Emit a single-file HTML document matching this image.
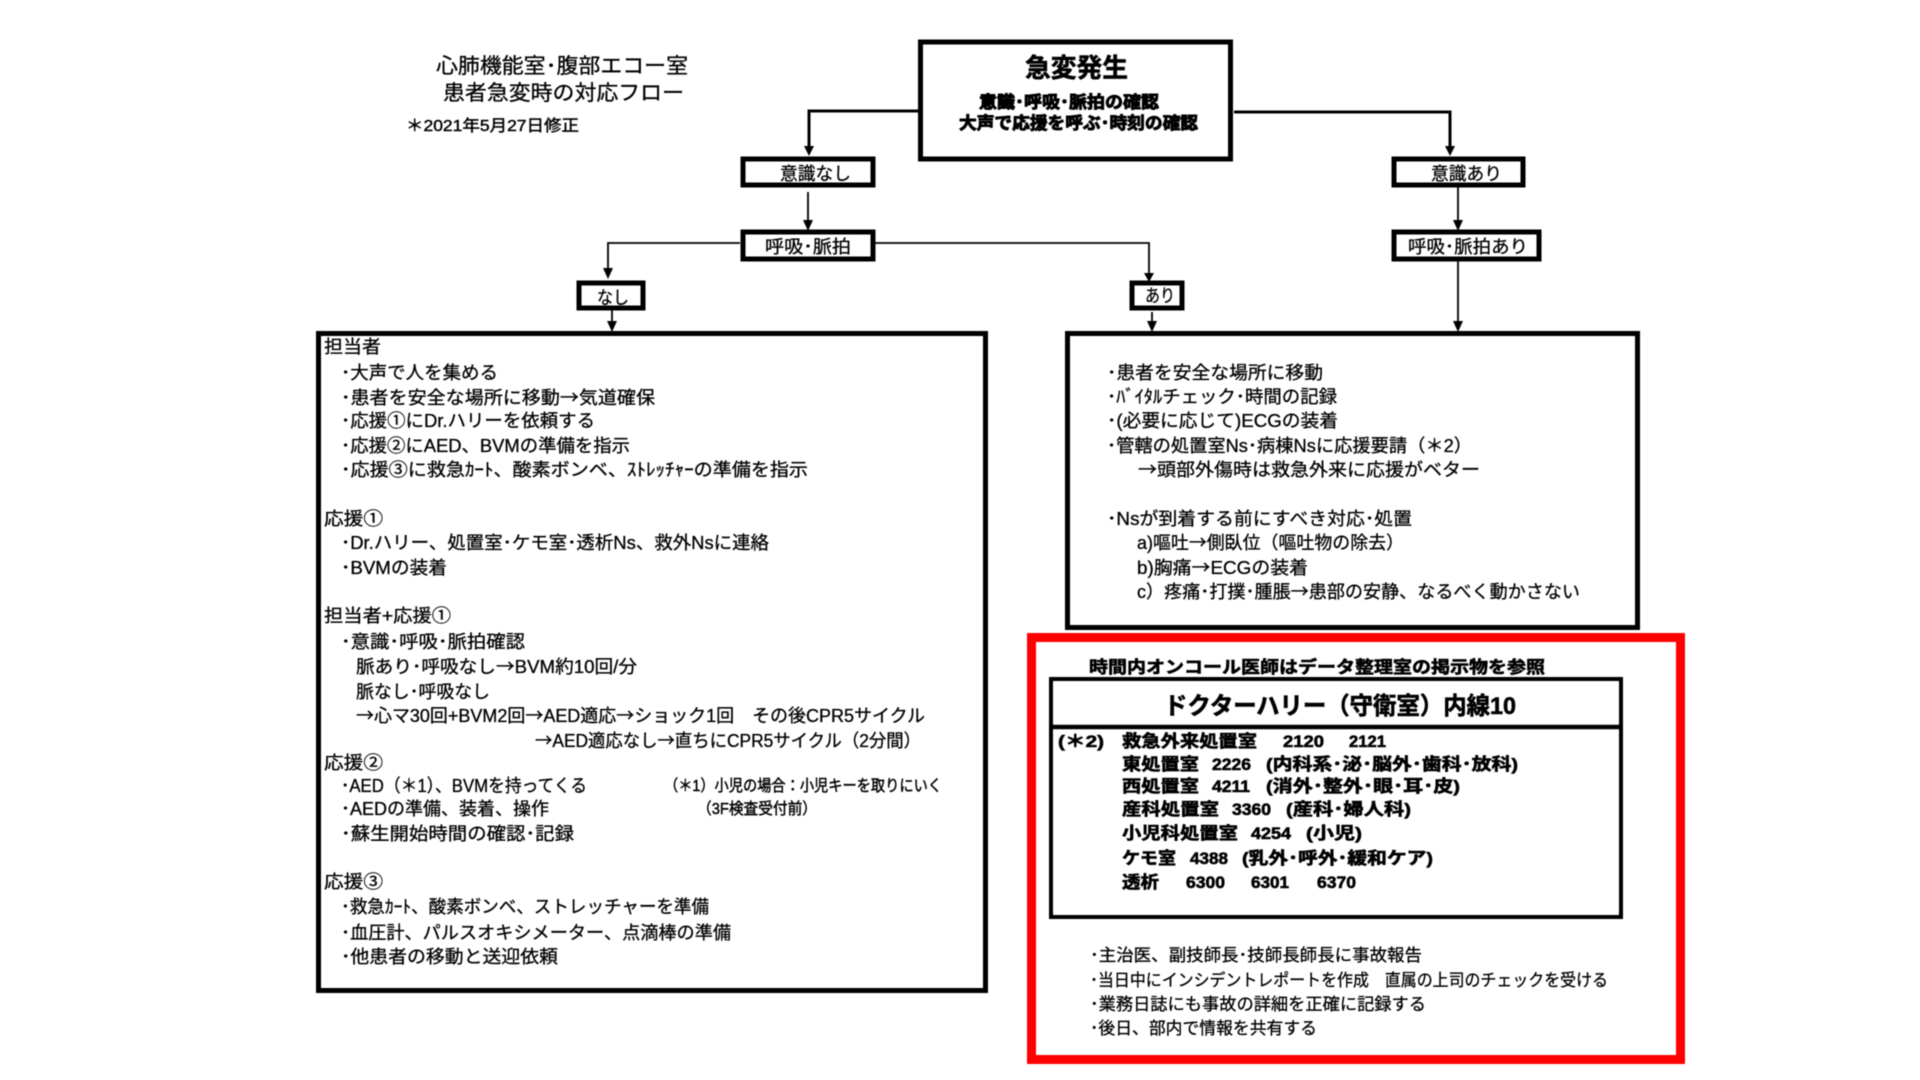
<!DOCTYPE html>
<html lang="ja"><head><meta charset="utf-8"><title>患者急変時の対応フロー</title>
<style>
html,body{margin:0;padding:0;background:#fff;width:1920px;height:1080px;overflow:hidden}
svg{display:block;filter:blur(.5px)}
text{font-family:"Liberation Sans","Noto Sans CJK JP",sans-serif;font-size:18px;fill:#000;stroke:#000;stroke-width:.3px;white-space:pre}
.b{font-weight:700;fill:#000;stroke-width:.6px}
.s{font-size:16px;stroke-width:.45px}
.m{font-size:17px}
.a{font-family:"Noto Sans CJK JP",sans-serif}
rect{fill:none;stroke:#000}
line,polyline{fill:none;stroke:#000}
polygon{fill:#000}
</style></head><body>
<svg width="1920" height="1080" viewBox="0 0 1920 1080" xmlns="http://www.w3.org/2000/svg">
<!-- connectors -->
<polyline points="918,111 809,111 809,147" stroke-width="3"/>
<polygon points="804,146 814,146 809,156"/>
<line x1="808" y1="192" x2="808" y2="222" stroke-width="1.8"/>
<polygon points="803,220 813,220 808,231"/>
<polyline points="740,243 608,243 608,270" stroke-width="1.8"/>
<polygon points="603,268 613,268 608,279"/>
<line x1="612" y1="310" x2="612" y2="323" stroke-width="1.8"/>
<polygon points="607,321 617,321 612,332"/>
<polyline points="875,243 1149,243 1149,275" stroke-width="1.8"/>
<polygon points="1144,273 1154,273 1149,282"/>
<line x1="1152" y1="312" x2="1152" y2="323" stroke-width="1.8"/>
<polygon points="1147,321 1157,321 1152,332"/>
<polyline points="1234,112 1450,112 1450,147" stroke-width="3"/>
<polygon points="1445,146 1455,146 1450,156"/>
<line x1="1458" y1="187" x2="1458" y2="222" stroke-width="1.8"/>
<polygon points="1453,220 1463,220 1458,231"/>
<line x1="1458" y1="261" x2="1458" y2="323" stroke-width="1.8"/>
<polygon points="1453,321 1463,321 1458,332"/>
<!-- boxes -->
<rect x="920.5" y="42" width="310" height="117" stroke-width="5"/>
<rect x="743" y="159" width="130" height="26" stroke-width="5"/>
<rect x="743" y="232" width="130" height="27" stroke-width="5"/>
<rect x="579" y="283" width="64" height="25" stroke-width="5"/>
<rect x="1132" y="283" width="50" height="25" stroke-width="5"/>
<rect x="1394" y="159" width="129" height="26" stroke-width="5"/>
<rect x="1394" y="232" width="145" height="27" stroke-width="5"/>
<rect x="318.5" y="333.5" width="667" height="657" stroke-width="5"/>
<rect x="1067.5" y="333.5" width="570" height="294" stroke-width="5"/>
<rect x="1031.5" y="637.5" width="649" height="422" stroke-width="9" style="stroke:#f00"/>
<rect x="1051" y="679" width="570" height="238" stroke-width="4"/>
<line x1="1049" y1="727" x2="1623" y2="727" stroke-width="4.5"/>
<!-- title -->
<text x="436" y="73" textLength="252" lengthAdjust="spacingAndGlyphs" style="font-size:21px">心肺機能室･腹部エコー室</text>
<text x="443" y="100" textLength="241" lengthAdjust="spacingAndGlyphs" style="font-size:21px">患者急変時の対応フロー</text>
<text x="406" y="131" textLength="173" lengthAdjust="spacingAndGlyphs" class="s">＊2021年5月27日修正</text>
<!-- main -->
<text x="1025" y="77" textLength="103" lengthAdjust="spacingAndGlyphs" class="b" style="font-size:26px">急変発生</text>
<text x="979" y="108" textLength="180" lengthAdjust="spacingAndGlyphs" class="b m" style="stroke-width:.9px">意識･呼吸･脈拍の確認</text>
<text x="959" y="129" textLength="239" lengthAdjust="spacingAndGlyphs" class="b m" style="stroke-width:.9px">大声で応援を呼ぶ･時刻の確認</text>
<text x="780" y="180" textLength="71" lengthAdjust="spacingAndGlyphs">意識なし</text>
<text x="765" y="253" textLength="86" lengthAdjust="spacingAndGlyphs">呼吸･脈拍</text>
<text x="597" y="304" textLength="32" lengthAdjust="spacingAndGlyphs">なし</text>
<text x="1145" y="302" textLength="30" lengthAdjust="spacingAndGlyphs">あり</text>
<text x="1431" y="180" textLength="71" lengthAdjust="spacingAndGlyphs">意識あり</text>
<text x="1408" y="253" textLength="120" lengthAdjust="spacingAndGlyphs">呼吸･脈拍あり</text>
<!-- left box -->
<text x="324" y="353" textLength="57" lengthAdjust="spacingAndGlyphs">担当者</text>
<text x="341" y="379" textLength="157" lengthAdjust="spacingAndGlyphs">･大声で人を集める</text>
<text x="341" y="404" textLength="314" lengthAdjust="spacingAndGlyphs">･患者を安全な場所に移動<tspan class="a">→</tspan>気道確保</text>
<text x="341" y="427" textLength="254" lengthAdjust="spacingAndGlyphs">･応援①にDr.ハリーを依頼する</text>
<text x="341" y="452" textLength="289" lengthAdjust="spacingAndGlyphs">･応援②にAED、BVMの準備を指示</text>
<text x="341" y="476" textLength="467" lengthAdjust="spacingAndGlyphs">･応援③に救急ｶｰﾄ、酸素ボンベ、ｽﾄﾚｯﾁｬｰの準備を指示</text>
<text x="324" y="525" textLength="59" lengthAdjust="spacingAndGlyphs">応援①</text>
<text x="341" y="549" textLength="428" lengthAdjust="spacingAndGlyphs">･Dr.ハリー、処置室･ケモ室･透析Ns、救外Nsに連絡</text>
<text x="341" y="574" textLength="106" lengthAdjust="spacingAndGlyphs">･BVMの装着</text>
<text x="324" y="622" textLength="127" lengthAdjust="spacingAndGlyphs">担当者+応援①</text>
<text x="341" y="648" textLength="184" lengthAdjust="spacingAndGlyphs">･意識･呼吸･脈拍確認</text>
<text x="356" y="673" textLength="281" lengthAdjust="spacingAndGlyphs">脈あり･呼吸なし<tspan class="a">→</tspan>BVM約10回/分</text>
<text x="356" y="698" textLength="134" lengthAdjust="spacingAndGlyphs">脈なし･呼吸なし</text>
<text x="356" y="722" textLength="569" lengthAdjust="spacingAndGlyphs"><tspan class="a">→</tspan>心マ30回+BVM2回<tspan class="a">→</tspan>AED適応<tspan class="a">→</tspan>ショック1回　その後CPR5サイクル</text>
<text x="535" y="747" textLength="386" lengthAdjust="spacingAndGlyphs"><tspan class="a">→</tspan>AED適応なし<tspan class="a">→</tspan>直ちにCPR5サイクル（2分間）</text>
<text x="324" y="769" textLength="59" lengthAdjust="spacingAndGlyphs">応援②</text>
<text x="341" y="792" textLength="246" lengthAdjust="spacingAndGlyphs">･AED（＊1）、BVMを持ってくる</text>
<text x="664" y="791" textLength="278" lengthAdjust="spacingAndGlyphs" class="s">（＊1）小児の場合：小児キーを取りにいく</text>
<text x="697" y="814" textLength="120" lengthAdjust="spacingAndGlyphs" class="s">（3F検査受付前）</text>
<text x="341" y="815" textLength="208" lengthAdjust="spacingAndGlyphs">･AEDの準備、装着、操作</text>
<text x="341" y="840" textLength="233" lengthAdjust="spacingAndGlyphs">･蘇生開始時間の確認･記録</text>
<text x="324" y="888" textLength="59" lengthAdjust="spacingAndGlyphs">応援③</text>
<text x="341" y="913" textLength="368" lengthAdjust="spacingAndGlyphs">･救急ｶｰﾄ、酸素ボンベ、ストレッチャーを準備</text>
<text x="341" y="939" textLength="390" lengthAdjust="spacingAndGlyphs">･血圧計、パルスオキシメーター、点滴棒の準備</text>
<text x="341" y="963" textLength="217" lengthAdjust="spacingAndGlyphs">･他患者の移動と送迎依頼</text>
<!-- right box -->
<text x="1107" y="379" textLength="216" lengthAdjust="spacingAndGlyphs">･患者を安全な場所に移動</text>
<text x="1107" y="403" textLength="230" lengthAdjust="spacingAndGlyphs">･ﾊﾞｲﾀﾙチェック･時間の記録</text>
<text x="1107" y="427" textLength="231" lengthAdjust="spacingAndGlyphs">･(必要に応じて)ECGの装着</text>
<text x="1107" y="452" textLength="365" lengthAdjust="spacingAndGlyphs">･管轄の処置室Ns･病棟Nsに応援要請（＊2）</text>
<text x="1138" y="476" textLength="342" lengthAdjust="spacingAndGlyphs"><tspan class="a">→</tspan>頭部外傷時は救急外来に応援がベター</text>
<text x="1107" y="525" textLength="305" lengthAdjust="spacingAndGlyphs">･Nsが到着する前にすべき対応･処置</text>
<text x="1137" y="549" textLength="267" lengthAdjust="spacingAndGlyphs">a)嘔吐<tspan class="a">→</tspan>側臥位（嘔吐物の除去）</text>
<text x="1137" y="574" textLength="171" lengthAdjust="spacingAndGlyphs">b)胸痛<tspan class="a">→</tspan>ECGの装着</text>
<text x="1137" y="598" textLength="443" lengthAdjust="spacingAndGlyphs">c）疼痛･打撲･腫脹<tspan class="a">→</tspan>患部の安静、なるべく動かさない</text>
<!-- red box -->
<text x="1089" y="673" textLength="456" lengthAdjust="spacingAndGlyphs" class="b m">時間内オンコール医師はデータ整理室の掲示物を参照</text>
<text x="1164" y="714" textLength="352" lengthAdjust="spacingAndGlyphs" class="b" style="font-size:24px">ドクターハリー（守衛室）内線10</text>
<text x="1058" y="747" textLength="46" lengthAdjust="spacingAndGlyphs" class="b m">(＊2)</text>
<text x="1122" y="747" textLength="135" lengthAdjust="spacingAndGlyphs" class="b m">救急外来処置室</text>
<text x="1283" y="747" textLength="41" lengthAdjust="spacingAndGlyphs" class="b m">2120</text>
<text x="1349" y="747" textLength="37" lengthAdjust="spacingAndGlyphs" class="b m">2121</text>
<text x="1122" y="770" textLength="77" lengthAdjust="spacingAndGlyphs" class="b m">東処置室</text>
<text x="1212" y="770" textLength="39" lengthAdjust="spacingAndGlyphs" class="b m">2226</text>
<text x="1266" y="770" textLength="252" lengthAdjust="spacingAndGlyphs" class="b m">(内科系･泌･脳外･歯科･放科)</text>
<text x="1122" y="792" textLength="77" lengthAdjust="spacingAndGlyphs" class="b m">西処置室</text>
<text x="1212" y="792" textLength="38" lengthAdjust="spacingAndGlyphs" class="b m">4211</text>
<text x="1266" y="792" textLength="194" lengthAdjust="spacingAndGlyphs" class="b m">(消外･整外･眼･耳･皮)</text>
<text x="1122" y="815" textLength="97" lengthAdjust="spacingAndGlyphs" class="b m">産科処置室</text>
<text x="1232" y="815" textLength="39" lengthAdjust="spacingAndGlyphs" class="b m">3360</text>
<text x="1286" y="815" textLength="125" lengthAdjust="spacingAndGlyphs" class="b m">(産科･婦人科)</text>
<text x="1122" y="839" textLength="116" lengthAdjust="spacingAndGlyphs" class="b m">小児科処置室</text>
<text x="1251" y="839" textLength="40" lengthAdjust="spacingAndGlyphs" class="b m">4254</text>
<text x="1306" y="839" textLength="56" lengthAdjust="spacingAndGlyphs" class="b m">(小児)</text>
<text x="1122" y="864" textLength="54" lengthAdjust="spacingAndGlyphs" class="b m">ケモ室</text>
<text x="1190" y="864" textLength="38" lengthAdjust="spacingAndGlyphs" class="b m">4388</text>
<text x="1242" y="864" textLength="191" lengthAdjust="spacingAndGlyphs" class="b m">(乳外･呼外･緩和ケア)</text>
<text x="1122" y="888" textLength="37" lengthAdjust="spacingAndGlyphs" class="b m">透析</text>
<text x="1186" y="888" textLength="39" lengthAdjust="spacingAndGlyphs" class="b m">6300</text>
<text x="1251" y="888" textLength="38" lengthAdjust="spacingAndGlyphs" class="b m">6301</text>
<text x="1317" y="888" textLength="39" lengthAdjust="spacingAndGlyphs" class="b m">6370</text>
<text x="1090" y="961" textLength="332" lengthAdjust="spacingAndGlyphs" class="m">･主治医、副技師長･技師長師長に事故報告</text>
<text x="1090" y="986" textLength="518" lengthAdjust="spacingAndGlyphs" class="m">･当日中にインシデントレポートを作成　直属の上司のチェックを受ける</text>
<text x="1090" y="1010" textLength="336" lengthAdjust="spacingAndGlyphs" class="m">･業務日誌にも事故の詳細を正確に記録する</text>
<text x="1090" y="1034" textLength="227" lengthAdjust="spacingAndGlyphs" class="m">･後日、部内で情報を共有する</text>
</svg>
</body></html>
